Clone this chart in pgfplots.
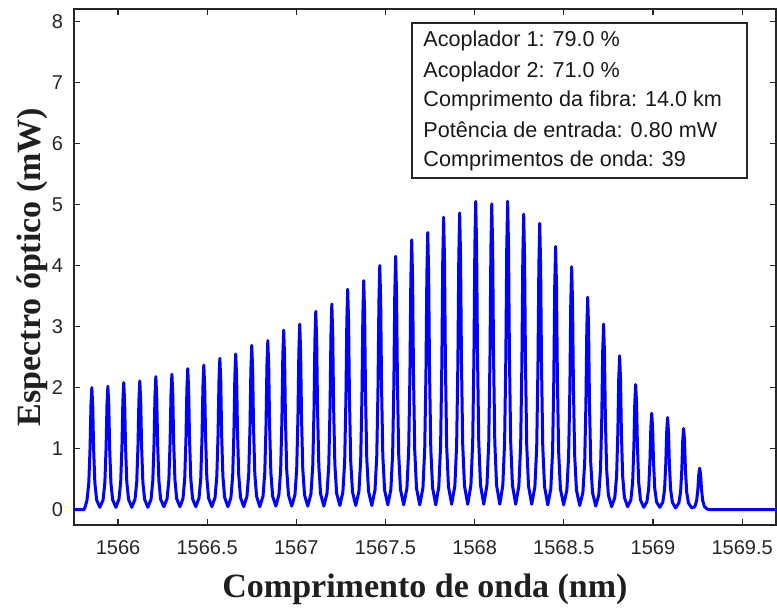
\documentclass[border=0pt]{standalone}
\usepackage{fontspec}
\setmainfont{Liberation Sans}
\newfontfamily\labelfont{Liberation Serif}
\usepackage{pgfplots}
\pgfplotsset{compat=1.18}
\definecolor{axisgray}{RGB}{38,38,38}
\definecolor{specblue}{RGB}{0,0,255}

\begin{document}
\begin{tikzpicture}
\begin{axis}[
  name=main,
  width=351pt, height=258pt, scale only axis,
  xmin=1565.753, xmax=1569.69, ymin=-0.25, ymax=8.2,
  xtick={1566,1566.5,1567,1567.5,1568,1568.5,1569,1569.5},
  xticklabels={1566,1566.5,1567,1567.5,1568,1568.5,1569,1569.5},
  ytick={0,1,2,3,4,5,6,7,8},
  tick align=inside, major tick length=3pt,
  axis line style={axisgray, line width=0.6pt},
  every tick/.style={axisgray, line width=0.6pt},
  tick label style={font=\fontsize{10}{12}\selectfont, text=axisgray},
  /pgf/number format/assume math mode=true,
  xticklabel style={yshift=-4pt},
  yticklabel style={xshift=-2pt},
  xlabel={Comprimento de onda (nm)},
  ylabel={Espectro óptico (mW)},
  xlabel style={at={(axis description cs:0.5,0)}, anchor=base, yshift=-36pt, inner sep=0pt,
    font=\labelfont\bfseries\fontsize{17}{20}\selectfont, text=black!88},
  ylabel style={at={(axis description cs:-0.0484,0.5)}, anchor=base, inner sep=0pt,
    font=\labelfont\bfseries\fontsize{17}{20}\selectfont, text=black!88},
]
% optical spectrum: 39 comb lines
\addplot[specblue, line width=1.5pt, line join=round] coordinates {
(1565.753,0)(1565.806,0)(1565.814,0.03)
(1565.826,0.16)(1565.836,0.44)(1565.843,1.00)(1565.848,1.70)(1565.853,2.00)(1565.858,1.70)(1565.863,1.00)(1565.870,0.44)(1565.880,0.16)(1565.898,0.04)
(1565.916,0.16)(1565.926,0.44)(1565.933,1.01)(1565.938,1.72)(1565.943,2.02)(1565.948,1.72)(1565.953,1.01)(1565.960,0.44)(1565.970,0.16)(1565.988,0.04)
(1566.005,0.17)(1566.015,0.46)(1566.022,1.04)(1566.027,1.77)(1566.032,2.08)(1566.037,1.77)(1566.042,1.04)(1566.049,0.46)(1566.059,0.17)(1566.077,0.04)
(1566.095,0.17)(1566.105,0.46)(1566.112,1.06)(1566.117,1.79)(1566.122,2.11)(1566.127,1.79)(1566.132,1.06)(1566.139,0.46)(1566.149,0.17)(1566.167,0.04)
(1566.185,0.17)(1566.195,0.48)(1566.202,1.09)(1566.207,1.85)(1566.212,2.18)(1566.217,1.85)(1566.222,1.09)(1566.229,0.48)(1566.239,0.17)(1566.257,0.05)
(1566.275,0.18)(1566.285,0.49)(1566.292,1.11)(1566.297,1.89)(1566.302,2.22)(1566.307,1.89)(1566.312,1.11)(1566.319,0.49)(1566.329,0.18)(1566.347,0.05)
(1566.364,0.18)(1566.374,0.51)(1566.381,1.16)(1566.386,1.96)(1566.391,2.31)(1566.396,1.96)(1566.401,1.16)(1566.408,0.51)(1566.418,0.18)(1566.436,0.05)
(1566.454,0.19)(1566.464,0.52)(1566.471,1.19)(1566.476,2.01)(1566.481,2.37)(1566.486,2.01)(1566.491,1.19)(1566.498,0.52)(1566.508,0.19)(1566.526,0.05)
(1566.544,0.20)(1566.554,0.55)(1566.561,1.24)(1566.566,2.11)(1566.571,2.48)(1566.576,2.11)(1566.581,1.24)(1566.588,0.55)(1566.598,0.20)(1566.616,0.05)
(1566.633,0.20)(1566.643,0.56)(1566.650,1.28)(1566.655,2.17)(1566.660,2.55)(1566.665,2.17)(1566.670,1.28)(1566.677,0.56)(1566.687,0.20)(1566.705,0.05)
(1566.723,0.22)(1566.733,0.59)(1566.740,1.35)(1566.745,2.29)(1566.750,2.69)(1566.755,2.29)(1566.760,1.35)(1566.767,0.59)(1566.777,0.22)(1566.795,0.05)
(1566.813,0.22)(1566.823,0.61)(1566.830,1.39)(1566.835,2.35)(1566.840,2.77)(1566.845,2.35)(1566.850,1.39)(1566.857,0.61)(1566.867,0.22)(1566.885,0.06)
(1566.902,0.24)(1566.912,0.65)(1566.919,1.47)(1566.924,2.50)(1566.929,2.94)(1566.934,2.50)(1566.939,1.47)(1566.946,0.65)(1566.956,0.24)(1566.974,0.06)
(1566.992,0.24)(1567.002,0.67)(1567.009,1.52)(1567.014,2.58)(1567.019,3.04)(1567.024,2.58)(1567.029,1.52)(1567.036,0.67)(1567.046,0.24)(1567.064,0.06)
(1567.082,0.26)(1567.092,0.72)(1567.099,1.63)(1567.104,2.76)(1567.109,3.25)(1567.114,2.76)(1567.119,1.63)(1567.126,0.72)(1567.136,0.26)(1567.154,0.06)
(1567.172,0.27)(1567.182,0.74)(1567.189,1.69)(1567.194,2.86)(1567.199,3.37)(1567.204,2.86)(1567.209,1.69)(1567.216,0.74)(1567.226,0.27)(1567.244,0.07)
(1567.261,0.29)(1567.271,0.79)(1567.278,1.81)(1567.283,3.07)(1567.288,3.61)(1567.293,3.07)(1567.298,1.81)(1567.305,0.79)(1567.315,0.29)(1567.333,0.07)
(1567.351,0.30)(1567.361,0.83)(1567.368,1.88)(1567.373,3.19)(1567.378,3.75)(1567.383,3.19)(1567.388,1.88)(1567.395,0.83)(1567.405,0.30)(1567.423,0.07)
(1567.441,0.32)(1567.451,0.88)(1567.458,2.00)(1567.463,3.40)(1567.468,4.00)(1567.473,3.40)(1567.478,2.00)(1567.485,0.88)(1567.495,0.32)(1567.513,0.08)
(1567.530,0.33)(1567.540,0.91)(1567.547,2.08)(1567.552,3.53)(1567.557,4.15)(1567.562,3.53)(1567.567,2.08)(1567.574,0.91)(1567.584,0.33)(1567.602,0.08)
(1567.620,0.35)(1567.630,0.97)(1567.637,2.21)(1567.642,3.76)(1567.647,4.42)(1567.652,3.76)(1567.657,2.21)(1567.664,0.97)(1567.674,0.35)(1567.692,0.08)
(1567.710,0.36)(1567.720,1.00)(1567.727,2.27)(1567.732,3.86)(1567.737,4.54)(1567.742,3.86)(1567.747,2.27)(1567.754,1.00)(1567.764,0.36)(1567.782,0.08)
(1567.799,0.38)(1567.809,1.05)(1567.816,2.40)(1567.821,4.07)(1567.826,4.79)(1567.831,4.07)(1567.836,2.40)(1567.843,1.05)(1567.853,0.38)(1567.871,0.09)
(1567.889,0.39)(1567.899,1.07)(1567.906,2.43)(1567.911,4.13)(1567.916,4.86)(1567.921,4.13)(1567.926,2.43)(1567.933,1.07)(1567.943,0.39)(1567.961,0.09)
(1567.979,0.40)(1567.989,1.11)(1567.996,2.53)(1568.001,4.29)(1568.006,5.05)(1568.011,4.29)(1568.016,2.53)(1568.023,1.11)(1568.033,0.40)(1568.051,0.09)
(1568.069,0.40)(1568.079,1.10)(1568.086,2.51)(1568.091,4.26)(1568.096,5.01)(1568.101,4.26)(1568.106,2.51)(1568.113,1.10)(1568.123,0.40)(1568.141,0.09)
(1568.158,0.40)(1568.168,1.11)(1568.175,2.53)(1568.180,4.29)(1568.185,5.05)(1568.190,4.29)(1568.195,2.53)(1568.202,1.11)(1568.212,0.40)(1568.230,0.09)
(1568.248,0.39)(1568.258,1.06)(1568.265,2.42)(1568.270,4.11)(1568.275,4.84)(1568.280,4.11)(1568.285,2.42)(1568.292,1.06)(1568.302,0.39)(1568.320,0.09)
(1568.338,0.38)(1568.348,1.03)(1568.355,2.35)(1568.360,3.99)(1568.365,4.69)(1568.370,3.99)(1568.375,2.35)(1568.382,1.03)(1568.392,0.38)(1568.410,0.08)
(1568.427,0.34)(1568.437,0.95)(1568.444,2.16)(1568.449,3.66)(1568.454,4.31)(1568.459,3.66)(1568.464,2.16)(1568.471,0.95)(1568.481,0.34)(1568.499,0.08)
(1568.517,0.32)(1568.527,0.88)(1568.534,1.99)(1568.539,3.38)(1568.544,3.98)(1568.549,3.38)(1568.554,1.99)(1568.561,0.88)(1568.571,0.32)(1568.589,0.07)
(1568.607,0.28)(1568.617,0.77)(1568.624,1.74)(1568.629,2.96)(1568.634,3.48)(1568.639,2.96)(1568.644,1.74)(1568.651,0.77)(1568.661,0.28)(1568.679,0.06)
(1568.696,0.24)(1568.706,0.67)(1568.713,1.52)(1568.718,2.58)(1568.723,3.04)(1568.728,2.58)(1568.733,1.52)(1568.740,0.67)(1568.750,0.24)(1568.768,0.05)
(1568.786,0.20)(1568.796,0.55)(1568.803,1.26)(1568.808,2.14)(1568.813,2.52)(1568.818,2.14)(1568.823,1.26)(1568.830,0.55)(1568.840,0.20)(1568.858,0.05)
(1568.876,0.16)(1568.886,0.45)(1568.893,1.03)(1568.898,1.74)(1568.903,2.05)(1568.908,1.74)(1568.913,1.03)(1568.920,0.45)(1568.930,0.16)(1568.948,0.04)
(1568.966,0.13)(1568.976,0.35)(1568.983,0.79)(1568.988,1.34)(1568.993,1.58)(1568.998,1.34)(1569.003,0.79)(1569.010,0.35)(1569.020,0.13)(1569.038,0.04)
(1569.055,0.12)(1569.065,0.33)(1569.072,0.76)(1569.077,1.28)(1569.082,1.51)(1569.087,1.28)(1569.092,0.76)(1569.099,0.33)(1569.109,0.12)(1569.127,0.03)
(1569.145,0.11)(1569.155,0.29)(1569.162,0.67)(1569.167,1.13)(1569.172,1.33)(1569.177,1.13)(1569.182,0.67)(1569.189,0.29)(1569.199,0.11)(1569.217,0.03)
(1569.235,0.05)(1569.245,0.15)(1569.252,0.34)(1569.257,0.58)(1569.262,0.68)(1569.267,0.58)(1569.272,0.34)(1569.279,0.15)(1569.289,0.05)(1569.305,0.01)
(1569.318,0)(1569.690,0)
};
% parameter box
\draw[axisgray, fill=white, line width=0.6pt]
  (axis description cs:0.4815,0.6725) rectangle (axis description cs:0.9587,0.9729);
\begin{scope}[every node/.style={anchor=base west, inner sep=0pt, font=\fontsize{10.8}{13}\selectfont, text=black!90}]
\node at (axis description cs:0.4972,0.9264) {Acoplador 1: 79.0 \%};
\node at (axis description cs:0.4972,0.8682) {Acoplador 2: 71.0 \%};
\node at (axis description cs:0.4972,0.8101) {Comprimento da fibra: 14.0 km};
\node at (axis description cs:0.4972,0.7519) {Potência de entrada: 0.80 mW};
\node at (axis description cs:0.4972,0.6938) {Comprimentos de onda: 39};
\end{scope}
\end{axis}
\pgfresetboundingbox
\path[use as bounding box] ([shift={(-37pt,-41pt)}]main.south west) rectangle ([shift={(0.5pt,4.5pt)}]main.north east);
\end{tikzpicture}
\end{document}
